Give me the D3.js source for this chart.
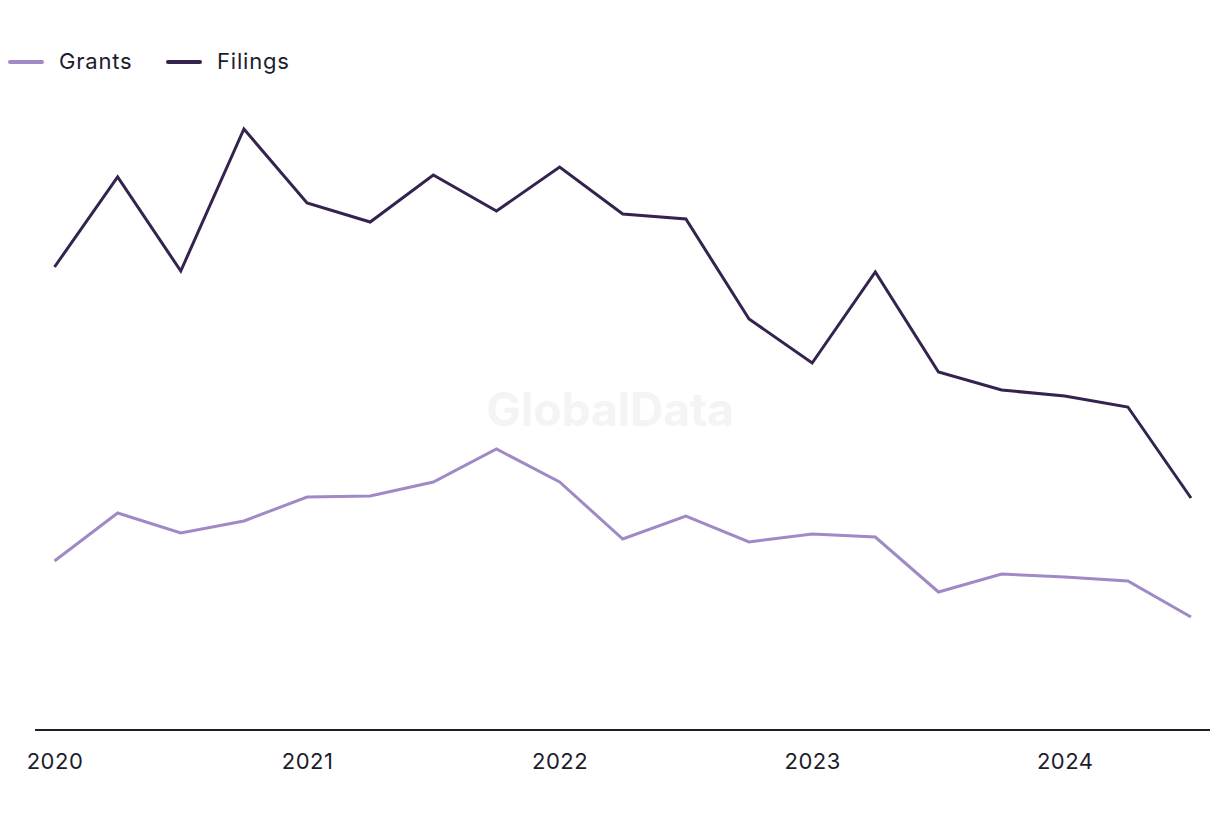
<!DOCTYPE html>
<html>
<head>
<meta charset="utf-8">
<script src="https://cdn.jsdelivr.net/npm/d3@7"></script>
<style>
  html, body { margin: 0; padding: 0; background: #ffffff; }
  svg { display: block; font-family: Inter, "Noto Sans", sans-serif; }
</style>
</head>
<body>
<svg id="chart" width="1220" height="820"></svg>
<script>
// Quarterly periods, 2020 Q1 .. 2024 Q3
const quarters = ["2020Q1","2020Q2","2020Q3","2020Q4","2021Q1","2021Q2","2021Q3","2021Q4",
                  "2022Q1","2022Q2","2022Q3","2022Q4","2023Q1","2023Q2","2023Q3","2023Q4",
                  "2024Q1","2024Q2","2024Q3"];
const filings = [463, 553, 459, 601, 527, 508, 555, 519, 563, 516, 511, 411, 367, 458, 358, 340, 334, 323, 232];
const grants  = [169, 217, 197, 209, 233, 234, 248, 281, 248, 191, 214, 188, 196, 193, 138, 156, 153, 149, 113];
const tickLabels = ["2020", "2021", "2022", "2023", "2024"];
const tickIndex = [0, 4, 8, 12, 16];
const seriesNames = ["Grants", "Filings"];

const colors = { Grants: "#a08ac6", Filings: "#34224f" };
const textColor = "#1c1c2c";

const svg = d3.select("#chart");

const x = d3.scaleLinear().domain([0, quarters.length - 1]).range([54.5, 1191]);
const y = d3.scaleLinear().domain([0, 700]).range([730, 30]);

// watermark
svg.append("text")
  .attr("x", 610).attr("y", 426)
  .attr("text-anchor", "middle")
  .attr("font-size", 46).attr("font-weight", 700)
  .attr("fill", "#f4f4f4")
  .text("GlobalData");

// x axis
const axis = d3.axisBottom(x)
  .tickValues(tickIndex)
  .tickFormat((d, i) => tickLabels[i])
  .tickSize(0)
  .tickPadding(23);
const gx = svg.append("g").attr("transform", `translate(0,730)`).call(axis);
gx.select(".domain").remove();
gx.append("line")
  .attr("x1", 35).attr("x2", 1210).attr("y1", 0).attr("y2", 0)
  .attr("stroke", textColor).attr("stroke-width", 2);
gx.selectAll(".tick text")
  .attr("font-size", 22)
  .attr("letter-spacing", "0.5px")
  .attr("fill", textColor)
  .attr("font-family", "Inter, 'Noto Sans', sans-serif");

// lines
const line = d3.line().x((d, i) => x(i)).y(d => y(d));
const data = { Grants: grants, Filings: filings };
seriesNames.forEach(name => {
  svg.append("path")
    .datum(data[name])
    .attr("fill", "none")
    .attr("stroke", colors[name])
    .attr("stroke-width", 3)
    .attr("stroke-linejoin", "miter")
    .attr("d", line);
});

// legend
const legendPos = [{x: 10}, {x: 168}];
seriesNames.forEach((name, i) => {
  const g = svg.append("g").attr("transform", `translate(${legendPos[i].x},62)`);
  g.append("line").attr("x1", 0).attr("x2", 32).attr("y1", 0).attr("y2", 0)
    .attr("stroke", colors[name]).attr("stroke-width", 4).attr("stroke-linecap", "round");
  g.append("text").attr("x", 49).attr("y", 7)
    .attr("font-size", 22).attr("letter-spacing", "0.8px").attr("fill", textColor)
    .text(name);
});
</script>
</body>
</html>
